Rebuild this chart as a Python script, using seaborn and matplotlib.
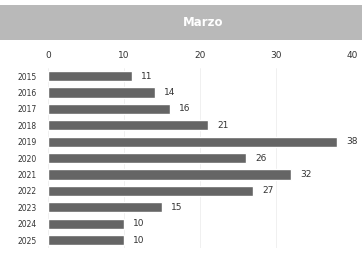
import pandas as pd
import seaborn as sns
import matplotlib.pyplot as plt
from matplotlib.patches import Rectangle

years = ['2015', '2016', '2017', '2018', '2019', '2020', '2021', '2022', '2023', '2024', '2025']
values = [11, 14, 16, 21, 38, 26, 32, 27, 15, 10, 10]
x_ticks = [0, 10, 20, 30, 40]

df = pd.DataFrame({'year': years, 'value': values})

sns.set_style('white')
plt.rcParams['font.family'] = ['DejaVu Sans']

fig = plt.figure(figsize=(3.62, 2.56), dpi=100)
fig.patch.set_facecolor('white')

# grey title band
fig.add_artist(Rectangle((0.0, 0.845), 1.0, 0.135, transform=fig.transFigure,
                         facecolor='#b9b9b9', edgecolor='none'))
fig.text(0.56, 0.912, 'Marzo', ha='center', va='center', color='white',
         fontsize=8.5, fontweight='bold')

ax = fig.add_axes([0.133, 0.03, 0.84, 0.705])
sns.barplot(data=df, x='value', y='year', orient='h', color='#656565',
            width=0.62, ax=ax, saturation=1)

for i, v in enumerate(values):
    ax.text(v + 1.2, i, str(v), va='center', ha='left', fontsize=6.5, color='#333333')

ax.set_xlim(0, 40)
ax.set_ylim(len(years) - 0.5, -0.5)
ax.set_xticks(x_ticks)
ax.xaxis.tick_top()
ax.tick_params(axis='x', length=0, pad=6, labelsize=6.5, colors='#333333')
ax.tick_params(axis='y', length=0, pad=8, labelsize=5.5, colors='#333333')
ax.set_xlabel('')
ax.set_ylabel('')
ax.grid(axis='x', color='#eeeeee', linewidth=0.6)
ax.set_axisbelow(True)
for s in ax.spines.values():
    s.set_visible(False)

plt.savefig('out.png', dpi=100)
plt.close()
